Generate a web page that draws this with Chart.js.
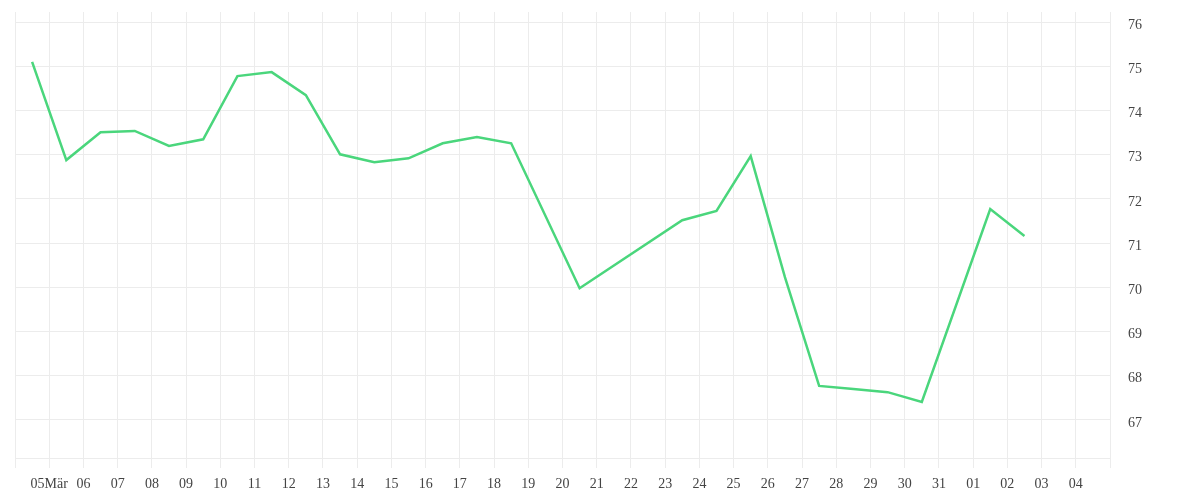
<!DOCTYPE html>
<html>
<head>
<meta charset="utf-8">
<script src="https://cdn.jsdelivr.net/npm/chart.js@4"></script>
<style>
  html, body { margin: 0; padding: 0; background: #fff; }
  #wrap { width: 1200px; height: 500px; }
</style>
</head>
<body>
<div id="wrap"><canvas id="chart"></canvas></div>
<script>
// day grid: 0 = 04 Mär ... 32 = 05 Apr, labels only on 1..31
const tickLabels = ["05Mär", "06", "07", "08", "09", "10", "11", "12", "13", "14", "15",
  "16", "17", "18", "19", "20", "21", "22", "23", "24", "25", "26", "27", "28", "29",
  "30", "31", "01", "02", "03", "04"];

// points sit in the middle of each day
const pointDays = [0.5, 1.5, 2.5, 3.5, 4.5, 5.5, 6.5, 7.5, 8.5, 9.5, 10.5, 11.5, 12.5,
  13.5, 14.5, 16.5, 19.5, 20.5, 21.5, 22.5, 23.5, 24.5, 25.5, 26.5, 28.5, 29.5];
const values = [75.10, 72.88, 73.51, 73.54, 73.20, 73.35, 74.78, 74.87, 74.35, 73.01,
  72.83, 72.92, 73.26, 73.40, 73.26, 69.98, 71.52, 71.73, 72.97, 70.23, 67.77, 67.70,
  67.63, 67.41, 71.77, 71.16];

const yTicks = [67, 68, 69, 70, 71, 72, 73, 74, 75, 76];

const gridColor = "#ececec";
const labelFont = { family: "'Liberation Serif', serif", size: 14 };

new Chart(document.getElementById("chart"), {
  type: "line",
  data: {
    datasets: [{
      data: pointDays.map((d, i) => ({ x: d, y: values[i] })),
      borderColor: "#4ad67c",
      borderWidth: 2.5,
      pointRadius: 0,
      tension: 0,
      fill: false,
    }],
  },
  options: {
    responsive: true,
    maintainAspectRatio: false,
    animation: false,
    layout: { padding: { left: 15, top: 12, right: 0, bottom: 0 } },
    plugins: { legend: { display: false }, tooltip: { enabled: false } },
    scales: {
      x: {
        type: "linear",
        min: 0,
        max: 32,
        grid: { color: gridColor, tickLength: 10 },
        border: { color: gridColor },
        ticks: {
          stepSize: 1,
          autoSkip: false,
          maxRotation: 0,
          padding: 8,
          color: "#444",
          font: labelFont,
          callback: (v) => tickLabels[v - 1] || "",
        },
        afterFit: (s) => { s.height = 42; s.paddingLeft = 0; s.paddingRight = 0; },
      },
      y: {
        position: "right",
        min: 66.14,
        max: 76.23,
        grid: { color: gridColor, drawTicks: false },
        border: { color: gridColor },
        afterBuildTicks: (s) => { s.ticks = yTicks.map((v) => ({ value: v })); },
        ticks: { padding: 18, labelOffset: 3, color: "#444", font: labelFont },
        afterFit: (s) => { s.width = 90; s.paddingTop = 0; s.paddingBottom = 0; },
      },
    },
  },
});
</script>
</body>
</html>
